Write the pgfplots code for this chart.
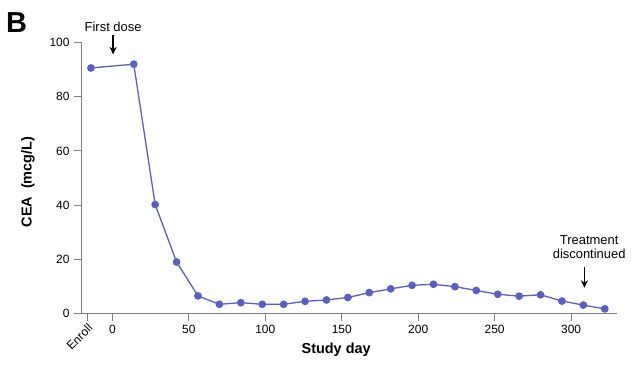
\documentclass[border=0pt]{standalone}
\usepackage{fontspec}
\setmainfont{Liberation Sans}
\usepackage{pgfplots}
\pgfplotsset{compat=1.18}
\usetikzlibrary{arrows.meta}
\definecolor{ser}{HTML}{5A5FC4}
\definecolor{axgray}{HTML}{7F7F7F}
\pgfplotstableread{
day cea
-14 90.6
14 92.0
28 40.2
42 19.0
56 6.5
70 3.4
84 4.0
98 3.4
112 3.4
126 4.5
140 5.0
154 5.9
168 7.7
182 9.1
196 10.4
210 10.8
224 9.9
238 8.5
252 7.1
266 6.4
280 6.9
294 4.6
308 3.1
322 1.7
}\ceadata
\begin{document}
\begin{tikzpicture}[x=1bp,y=1bp]
\path[use as bounding box] (0,0) rectangle (642,364);
\begin{axis}[
  at={(81bp,50.5bp)}, anchor=south west,
  scale only axis, width=536bp, height=271bp,
  xmin=-20.5, xmax=330, ymin=0, ymax=100,
  axis x line*=bottom, axis y line*=left,
  axis line style={axgray, line width=0.9bp},
  tick style={axgray, line width=0.9bp},
  tick align=outside, major tick length=7bp,
  xtick={0,50,100,150,200,250,300},
  ytick={0,20,40,60,80,100},
  extra x ticks={-16.5},
  extra x tick labels={Enroll},
  extra x tick style={tick label style={rotate=45, anchor=north east, inner sep=0.5bp, xshift=-1bp}},
  /pgf/number format/assume math mode=true,
  tick label style={font=\fontsize{12}{14}\selectfont, text=black},
  xticklabel style={yshift=-1bp},
  yticklabel style={xshift=-1bp},
  xlabel={Study day},
  ylabel={CEA\ \ (mcg/L)},
  xlabel style={font=\bfseries\fontsize{14.5}{16}\selectfont, at={(axis description cs:0.476,-0.135)}, anchor=center},
  ylabel style={font=\bfseries\fontsize{14.5}{16}\selectfont, at={(axis description cs:-0.099,0.485)}, anchor=center},
  clip=false,
]
\addplot[color=ser, line width=1.3bp, mark=*, mark size=3.2bp, mark options={fill=ser, draw=ser}] table[x=day, y=cea] {\ceadata};
\node[font=\fontsize{13}{15}\selectfont, anchor=center] at (axis cs:0.5,105.9) {First dose};
\draw[-{Stealth[length=7.5bp,width=7bp]}, line width=1.8bp] (axis cs:0.5,102.6) -- (axis cs:0.5,95.6);
\node[font=\fontsize{13}{14.5}\selectfont, align=center, anchor=center] at (axis cs:311.8,24.6) {Treatment\\discontinued};
\draw[-{Stealth[length=7.5bp,width=7bp]}, line width=1.8bp] (axis cs:308.7,17.0) -- (axis cs:308.7,9.5);
\end{axis}
\node[anchor=north west, inner sep=0pt, font=\bfseries\fontsize{29}{30}\selectfont] at (6,352) {B};
\end{tikzpicture}
\end{document}
